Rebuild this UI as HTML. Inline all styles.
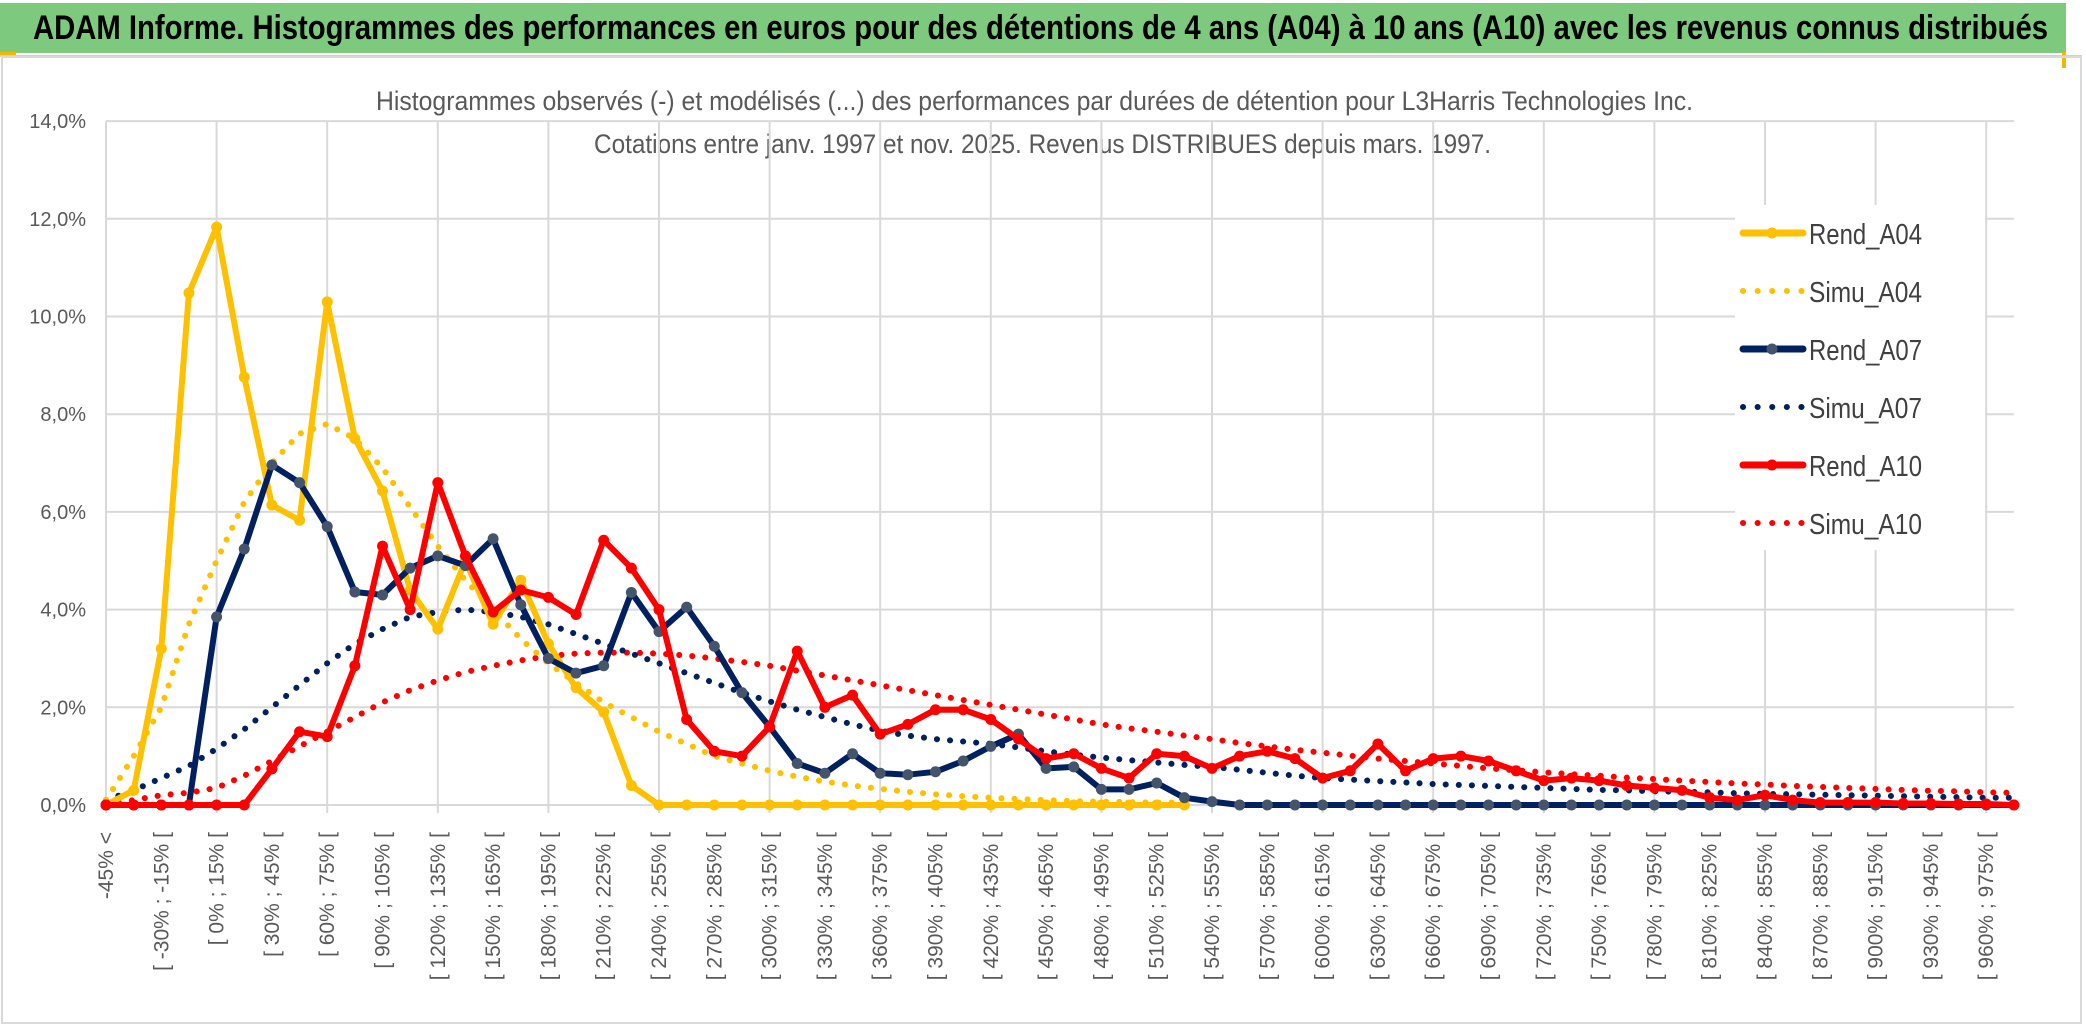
<!DOCTYPE html>
<html><head><meta charset="utf-8"><style>
html,body{margin:0;padding:0;background:#fff;}
svg{display:block;font-family:"Liberation Sans Narrow","Liberation Sans",sans-serif;}
</style></head><body>
<svg id="chart" width="2086" height="1033" viewBox="0 0 2086 1033" xmlns="http://www.w3.org/2000/svg">
<rect x="0" y="0" width="2086" height="1033" fill="#fff"/>
<rect x="0" y="3" width="2066" height="50" fill="#7dc97d"/>
<rect x="0" y="52" width="16" height="3" fill="#f2b800"/>
<rect x="2062" y="52" width="4" height="16" fill="#f2b800"/>
<line x1="0" y1="56" x2="2082" y2="56" stroke="#d0d0d0" stroke-width="2"/>
<rect x="2" y="57" width="2079" height="966" fill="none" stroke="#d9d9d9" stroke-width="2"/>
<text x="33" y="39" font-size="34" font-weight="bold" fill="#000" textLength="2015" lengthAdjust="spacingAndGlyphs">ADAM Informe. Histogrammes des performances en euros pour des détentions de 4 ans (A04) à 10 ans (A10) avec les revenus connus distribués</text>
<text x="376" y="110" font-size="27" fill="#595959" textLength="1317" lengthAdjust="spacingAndGlyphs">Histogrammes observés (-) et modélisés (...) des performances par durées de détention pour L3Harris Technologies Inc.</text>
<text x="594" y="153" font-size="27" fill="#595959" textLength="897" lengthAdjust="spacingAndGlyphs">Cotations entre janv. 1997 et nov. 2025. Revenus DISTRIBUES depuis mars. 1997.</text>
<g id="grid"></g>
<g id="yaxis"></g>
<g id="xaxis"></g>
<g id="series"></g>
<g id="legend"></g>
</svg>
<script>
const categories = ["-45% <"];
for (let i = 1; i < 70; i++) { const lo = -45 + 15 * (i - 1); categories.push("[ " + lo + "% ; " + (lo + 15) + "% ["); }
const yTicks = [0, 2, 4, 6, 8, 10, 12, 14];
const yTickLabels = ["0,0%", "2,0%", "4,0%", "6,0%", "8,0%", "10,0%", "12,0%", "14,0%"];
const rendA04 = [0,0.3,3.2,10.48,11.83,8.76,6.14,5.83,10.3,7.5,6.43,4.4,3.6,5.0,3.7,4.6,3.3,2.4,1.9,0.4,0,0,0,0,0,0,0,0,0,0,0,0,0,0,0,0,0,0,0,0];
const simuA04 = [0.1,1.0,2.0,3.7,5.0,6.2,7.0,7.6,7.8,7.5,6.9,6.1,5.3,4.6,4.0,3.4,2.9,2.5,2.1,1.8,1.5,1.25,1.0,0.85,0.7,0.58,0.48,0.4,0.33,0.27,0.22,0.18,0.15,0.12,0.1,0.08,0.07,0.06,0.05,0.05];
const rendA07 = [0,0,0,0,3.85,5.24,6.96,6.6,5.7,4.36,4.3,4.85,5.1,4.9,5.45,4.1,3.0,2.7,2.85,4.35,3.55,4.05,3.25,2.3,1.6,0.85,0.65,1.05,0.65,0.62,0.68,0.9,1.2,1.45,0.75,0.78,0.32,0.32,0.45,0.15,0.07,0,0,0,0,0,0,0,0,0,0,0,0,0,0,0,0,0,0,0,0,0,0,0,0,0,0,0,0,0];
const simuA07 = [0.1,0.3,0.55,0.8,1.15,1.55,2.0,2.45,2.9,3.3,3.6,3.85,3.95,4.0,3.95,3.85,3.7,3.5,3.3,3.1,2.9,2.7,2.5,2.3,2.12,1.95,1.8,1.65,1.52,1.42,1.35,1.3,1.25,1.18,1.1,1.03,0.97,0.92,0.87,0.82,0.78,0.72,0.66,0.6,0.55,0.52,0.49,0.46,0.43,0.41,0.39,0.37,0.35,0.33,0.31,0.3,0.28,0.27,0.26,0.24,0.23,0.22,0.21,0.2,0.19,0.18,0.17,0.16,0.15,0.15];
const rendA10 = [0,0,0,0,0,0,0.74,1.5,1.4,2.85,5.3,4.0,6.6,5.1,3.95,4.4,4.25,3.9,5.42,4.85,4.0,1.75,1.1,1.0,1.6,3.15,2.0,2.25,1.45,1.65,1.95,1.95,1.75,1.35,0.95,1.05,0.75,0.55,1.05,1.0,0.75,1.0,1.1,0.95,0.55,0.7,1.25,0.7,0.95,1.0,0.9,0.7,0.5,0.55,0.5,0.4,0.35,0.3,0.15,0.1,0.2,0.1,0.05,0.05,0.05,0.03,0.03,0.02,0.02,0];
const simuA10 = [0,0.1,0.2,0.25,0.35,0.6,0.9,1.2,1.5,1.8,2.1,2.35,2.55,2.72,2.85,2.96,3.05,3.1,3.12,3.12,3.1,3.06,3.0,2.93,2.85,2.75,2.65,2.55,2.45,2.35,2.25,2.15,2.05,1.95,1.85,1.75,1.65,1.57,1.5,1.42,1.35,1.27,1.2,1.13,1.07,1.01,0.95,0.9,0.85,0.8,0.75,0.71,0.67,0.63,0.6,0.56,0.53,0.5,0.47,0.44,0.42,0.39,0.37,0.35,0.33,0.31,0.29,0.28,0.26,0.25];

const NS = "http://www.w3.org/2000/svg";
const X0 = 106, DX = 27.65, Y0 = 805, PXPCT = 48.85, YTOP = Y0 - 14 * PXPCT;
const xOf = i => X0 + i * DX;
const yOf = v => Y0 - v * PXPCT;
const XEND = xOf(categories.length - 1);
function mk(tag, attrs, parent) { const e = document.createElementNS(NS, tag); for (const k in attrs) e.setAttribute(k, attrs[k]); parent.appendChild(e); return e; }

const grid = document.getElementById('grid');
yTicks.forEach(v => {
  const l = mk('line', {x1: X0, x2: XEND, y1: yOf(v), y2: yOf(v), stroke: '#d9d9d9', 'stroke-width': 2}, grid);
  
  
});
for (let i = 0; i < categories.length; i += 4) {
  const l = mk('line', {x1: xOf(i), x2: xOf(i), y1: YTOP, y2: Y0 + 8, stroke: '#d9d9d9', 'stroke-width': 2}, grid);
  
  
}
const yaxis = document.getElementById('yaxis');
yTicks.forEach((v, k) => {
  const t = mk('text', {x: 86, y: yOf(v) + 7, 'text-anchor': 'end', 'font-size': 20, fill: '#595959'}, yaxis);
  t.textContent = yTickLabels[k];
  
  
});
const xaxis = document.getElementById('xaxis');
for (let i = 0; i < categories.length; i += 2) {
  const x = xOf(i) + 7, y = 832;
  const t = mk('text', {x: x, y: y, 'text-anchor': 'end', 'font-size': 21, fill: '#595959', transform: 'rotate(-90 ' + x + ' ' + y + ')'}, xaxis);
  t.textContent = categories[i];
  
  
}
const series = document.getElementById('series');
function pts(arr) { return arr.map((v, i) => xOf(i).toFixed(1) + ',' + yOf(v).toFixed(1)).join(' '); }
function dotted(arr, color, name) {
  const p = mk('polyline', {points: pts(arr), fill: 'none', stroke: color, 'stroke-width': 6, 'stroke-linecap': 'round', 'stroke-dasharray': '0.1 13'}, series);
  
  
}
function solid(arr, color, mcolor, name) {
  const g = mk('g', {}, series);
  
  
  mk('polyline', {points: pts(arr), fill: 'none', stroke: color, 'stroke-width': 6, 'stroke-linejoin': 'round'}, g);
  arr.forEach((v, i) => {
    const c = mk('circle', {cx: xOf(i), cy: yOf(v), r: 5.5, fill: mcolor}, g);
    
    
  });
}
dotted(simuA10, '#ff0000', 'simu-a10-line');
dotted(simuA07, '#002060', 'simu-a07-line');
dotted(simuA04, '#ffc000', 'simu-a04-line');
solid(rendA04, '#ffc000', '#ffc000', 'rend-a04-line');
solid(rendA07, '#002060', '#44546a', 'rend-a07-line');
solid(rendA10, '#ff0000', '#ff0000', 'rend-a10-line');

const legend = document.getElementById('legend');
const lg = mk('rect', {x: 1735, y: 205, width: 250, height: 345, fill: '#fff'}, legend);


const legNames = ['Rend_A04','Simu_A04','Rend_A07','Simu_A07','Rend_A10','Simu_A10'];
const legColors = ['#ffc000','#ffc000','#002060','#002060','#ff0000','#ff0000'];
const legMarker = ['#ffc000',null,'#44546a',null,'#ff0000',null];
legNames.forEach((n, k) => {
  const y = 233 + k * 58;
  const g = mk('g', {}, legend);
  
  
  if (legMarker[k]) {
    mk('line', {x1: 1743, x2: 1803, y1: y, y2: y, stroke: legColors[k], 'stroke-width': 7, 'stroke-linecap': 'round'}, g);
    mk('circle', {cx: 1772, cy: y, r: 5.5, fill: legMarker[k]}, g);
  } else {
    mk('line', {x1: 1743, x2: 1803, y1: y, y2: y, stroke: legColors[k], 'stroke-width': 6, 'stroke-linecap': 'round', 'stroke-dasharray': '0.1 14.5'}, g);
  }
  const t = mk('text', {x: 1809, y: y + 11, 'font-size': 29, fill: '#404040', textLength: 113, lengthAdjust: 'spacingAndGlyphs'}, g);
  t.textContent = n;
});
</script>
</body></html>
